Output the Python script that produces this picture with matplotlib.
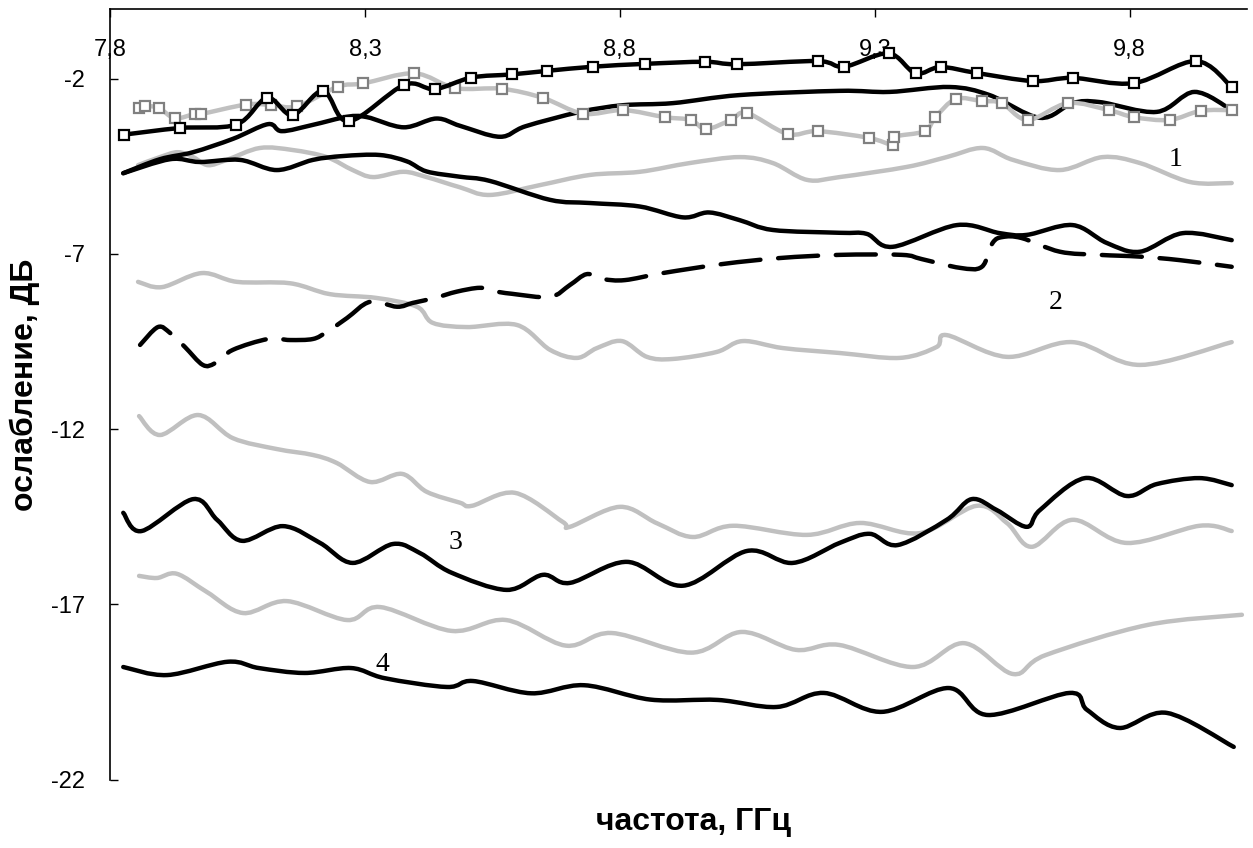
import matplotlib
matplotlib.use("Agg")
import matplotlib.pyplot as plt
import numpy as np
from matplotlib.path import Path
from matplotlib.patches import PathPatch

# ---- data (frequency, GHz ; attenuation, dB) ----
a_f = [7.827, 7.937, 8.048, 8.108, 8.158, 8.218, 8.268, 8.377, 8.437, 8.509, 8.588, 8.657, 8.748, 8.849,
       8.967, 9.030, 9.188, 9.240, 9.327, 9.380, 9.429, 9.500, 9.610, 9.688, 9.808, 9.930, 10.000]
a_v = [-3.60, -3.41, -3.31, -2.55, -3.04, -2.35, -3.22, -2.18, -2.30, -1.97, -1.88, -1.78, -1.66, -1.58,
       -1.52, -1.59, -1.50, -1.66, -1.28, -1.85, -1.67, -1.84, -2.07, -1.98, -2.13, -1.50, -2.24]

b_f = [7.857, 7.868, 7.896, 7.927, 7.966, 7.979, 8.067, 8.115, 8.167, 8.247, 8.296, 8.397, 8.477, 8.568,
       8.649, 8.728, 8.807, 8.888, 8.939, 8.969, 9.018, 9.049, 9.129, 9.188, 9.288, 9.335, 9.338, 9.398,
       9.419, 9.459, 9.510, 9.549, 9.600, 9.679, 9.759, 9.808, 9.878, 9.939, 10.000]
b_v = [-2.84, -2.78, -2.84, -3.13, -3.01, -3.01, -2.74, -2.75, -2.79, -2.23, -2.14, -1.85, -2.27, -2.29,
       -2.55, -3.00, -2.90, -3.10, -3.18, -3.44, -3.18, -2.98, -3.58, -3.50, -3.69, -3.89, -3.66, -3.50,
       -3.10, -2.58, -2.64, -2.70, -3.18, -2.70, -2.90, -3.10, -3.18, -2.92, -2.90]

c_f = [7.826, 7.898, 7.963, 8.041, 8.110, 8.137, 8.198, 8.265, 8.304, 8.376, 8.440, 8.487, 8.565, 8.615,
       8.722, 8.806, 8.904, 9.035, 9.231, 9.329, 9.447, 9.525, 9.624, 9.688, 9.741, 9.853, 9.927, 10.000]
c_v = [-4.70, -4.30, -4.10, -3.72, -3.30, -3.50, -3.32, -3.09, -3.10, -3.39, -3.14, -3.35, -3.66, -3.36,
       -2.95, -2.76, -2.70, -2.47, -2.35, -2.38, -2.24, -2.47, -3.12, -2.70, -2.67, -2.95, -2.38, -2.90]

d_f = [7.826, 7.918, 7.976, 8.055, 8.127, 8.198, 8.257, 8.329, 8.382, 8.421, 8.486, 8.545, 8.663, 8.741,
       8.839, 8.924, 8.975, 9.035, 9.100, 9.231, 9.284, 9.335, 9.461, 9.545, 9.598, 9.688, 9.755, 9.820,
       9.904, 10.000]
d_v = [-4.70, -4.30, -4.38, -4.32, -4.61, -4.32, -4.21, -4.18, -4.36, -4.65, -4.80, -4.92, -5.46, -5.55,
       -5.65, -5.96, -5.82, -6.04, -6.32, -6.40, -6.43, -6.80, -6.18, -6.41, -6.46, -6.18, -6.69, -6.94,
       -6.41, -6.61]

e_f = [7.859, 7.894, 7.918, 7.947, 7.982, 8.006, 8.041, 8.110, 8.153, 8.198, 8.225, 8.265, 8.310, 8.363,
       8.394, 8.437, 8.480, 8.525, 8.551, 8.588, 8.663, 8.702, 8.735, 8.767, 8.810, 8.884, 9.002, 9.114,
       9.231, 9.353, 9.392, 9.467, 9.510, 9.531, 9.551, 9.588, 9.663, 9.741, 9.820, 9.898, 10.000]
e_v = [-9.60, -9.09, -9.26, -9.66, -10.17, -10.12, -9.74, -9.43, -9.46, -9.43, -9.23, -8.83, -8.37, -8.51,
       -8.40, -8.26, -8.08, -7.97, -8.06, -8.14, -8.23, -7.89, -7.58, -7.72, -7.75, -7.55, -7.29, -7.12,
       -7.03, -7.03, -7.15, -7.40, -7.37, -6.69, -6.52, -6.55, -6.94, -7.03, -7.08, -7.18, -7.37]

f_f = [7.855, 7.898, 7.933, 7.963, 7.992, 8.029, 8.094, 8.159, 8.225, 8.276, 8.316, 8.375, 8.421, 8.486,
       8.545, 8.643, 8.741, 8.839, 8.937, 9.035, 9.100, 9.167, 9.231, 9.363, 9.441, 9.512, 9.571, 9.663,
       9.747, 9.820, 9.918, 10.000]
f_v = [-4.47, -4.24, -4.10, -4.24, -4.47, -4.32, -3.98, -4.04, -4.24, -4.61, -4.81, -4.66, -4.81, -5.10,
       -5.32, -5.04, -4.75, -4.66, -4.41, -4.24, -4.41, -4.89, -4.81, -4.52, -4.24, -3.98, -4.32, -4.61,
       -4.24, -4.41, -4.95, -4.98]

g_f = [7.855, 7.902, 7.980, 8.049, 8.153, 8.231, 8.323, 8.402, 8.433, 8.500, 8.598, 8.663, 8.716, 8.755,
       8.804, 8.853, 8.904, 8.990, 9.041, 9.120, 9.231, 9.349, 9.421, 9.441, 9.559, 9.688, 9.820, 10.000]
g_v = [-7.80, -7.95, -7.55, -7.80, -7.84, -8.15, -8.26, -8.51, -8.97, -9.09, -9.03, -9.74, -9.97, -9.69,
       -9.49, -9.94, -10.00, -9.80, -9.49, -9.69, -9.83, -9.97, -9.66, -9.32, -9.94, -9.52, -10.17, -9.52]

h_f = [7.857, 7.898, 7.973, 8.041, 8.127, 8.198, 8.245, 8.310, 8.373, 8.421, 8.486, 8.510, 8.594, 8.688,
       8.702, 8.800, 8.873, 8.943, 9.022, 9.167, 9.271, 9.388, 9.500, 9.559, 9.608, 9.688, 9.794, 9.937,
       10.000]
h_v = [-11.63, -12.17, -11.60, -12.26, -12.57, -12.74, -12.97, -13.51, -13.28, -13.79, -14.10, -14.19,
       -13.82, -14.65, -14.79, -14.22, -14.69, -15.08, -14.76, -15.02, -14.68, -14.97, -14.19, -14.68,
       -15.36, -14.59, -15.25, -14.76, -14.91]

i_f = [7.826, 7.862, 7.963, 8.010, 8.059, 8.139, 8.212, 8.276, 8.355, 8.408, 8.470, 8.578, 8.649, 8.702,
       8.814, 8.924, 9.049, 9.139, 9.231, 9.290, 9.345, 9.441, 9.490, 9.539, 9.598, 9.624, 9.712, 9.794,
       9.853, 9.937, 10.000]
i_v = [-14.39, -14.91, -14.00, -14.59, -15.19, -14.77, -15.25, -15.82, -15.28, -15.54, -16.10, -16.59,
       -16.16, -16.39, -15.79, -16.47, -15.48, -15.82, -15.25, -14.99, -15.31, -14.59, -14.00, -14.31,
       -14.79, -14.31, -13.40, -13.91, -13.57, -13.40, -13.60]

j_f = [7.857, 7.892, 7.931, 7.990, 8.061, 8.147, 8.265, 8.330, 8.470, 8.577, 8.694, 8.784, 8.940, 9.039,
       9.145, 9.230, 9.375, 9.475, 9.571, 9.635, 9.835, 10.020]
j_v = [-16.19, -16.25, -16.13, -16.65, -17.25, -16.91, -17.45, -17.08, -17.76, -17.45, -18.18, -17.82,
       -18.38, -17.79, -18.30, -18.16, -18.79, -18.11, -18.99, -18.45, -17.59, -17.30]

k_f = [7.826, 7.912, 8.031, 8.092, 8.182, 8.273, 8.339, 8.461, 8.512, 8.626, 8.730, 8.860, 8.992, 9.108,
       9.200, 9.314, 9.445, 9.522, 9.682, 9.716, 9.780, 9.873, 10.004]
k_v = [-18.79, -19.02, -18.64, -18.82, -18.96, -18.82, -19.11, -19.36, -19.19, -19.54, -19.31, -19.72,
       -19.73, -19.93, -19.53, -20.07, -19.39, -20.16, -19.53, -20.01, -20.53, -20.10, -21.07]

curve_labels = ["1", "2", "3", "4"]
label_f = [9.89, 9.655, 8.478, 8.335]
label_v = [-4.32, -8.40, -15.25, -18.73]

x_ticks = [7.8, 8.3, 8.8, 9.3, 9.8]
x_ticklabels = ["7,8", "8,3", "8,8", "9,3", "9,8"]
y_ticks = [-2, -7, -12, -17, -22]
y_ticklabels = ["-2", "-7", "-12", "-17", "-22"]

x_title = "частота, ГГц"
y_title = "ослабление, ДБ"

# ---- drawing ----
plt.rcParams["font.family"] = ["Liberation Sans", "DejaVu Sans"]
BLACK = "#000000"
GRAY = "#c0c0c0"
LW = 3.2


def smoothed(xs, ys):
    """Smoothed line through the data points (spreadsheet-style Bezier smoothing)."""
    p = np.column_stack([xs, ys]).astype(float)
    n = len(p)
    verts = [p[0]]
    codes = [Path.MOVETO]
    for i in range(n - 1):
        p0 = p[i - 1] if i > 0 else p[i]
        p1 = p[i]
        p2 = p[i + 1]
        p3 = p[i + 2] if i + 2 < n else p[i + 1]
        verts += [p1 + (p2 - p0) / 6.0, p2 - (p3 - p1) / 6.0, p2]
        codes += [Path.CURVE4] * 3
    return Path(verts, codes)


def draw(ax, xs, ys, color, ls="-", zorder=2):
    patch = PathPatch(smoothed(xs, ys), fill=False, edgecolor=color, lw=LW, linestyle=ls,
                      capstyle="round", joinstyle="round", zorder=zorder)
    ax.add_patch(patch)


fig = plt.figure(figsize=(12.53, 8.48), dpi=100)
ax = fig.add_axes([110 / 1253, 1 - 779.5 / 848, (1247 - 110) / 1253, (779.5 - 8.5) / 848])

draw(ax, f_f, f_v, GRAY)
draw(ax, g_f, g_v, GRAY)
draw(ax, h_f, h_v, GRAY)
draw(ax, j_f, j_v, GRAY)
draw(ax, c_f, c_v, BLACK)
draw(ax, d_f, d_v, BLACK)
draw(ax, e_f, e_v, BLACK, ls=(0, (9, 4)))
draw(ax, i_f, i_v, BLACK)
draw(ax, k_f, k_v, BLACK)
draw(ax, b_f, b_v, GRAY, zorder=3)
ax.plot(b_f, b_v, linestyle="none", marker="s", ms=7.5, mfc="white", mec="#808080", mew=1.6, zorder=4)
draw(ax, a_f, a_v, BLACK, zorder=5)
ax.plot(a_f, a_v, linestyle="none", marker="s", ms=7.5, mfc="white", mec=BLACK, mew=1.6, zorder=6)

for txt, fx, vy in zip(curve_labels, label_f, label_v):
    ax.text(fx, vy, txt, ha="center", va="center", fontsize=20, family="Liberation Serif")

ax.set_xlim(7.8, 10.03)
ax.set_ylim(-22, 0)

ax.set_xticks(x_ticks)
ax.set_xticklabels(x_ticklabels)
ax.set_yticks(y_ticks)
ax.set_yticklabels(y_ticklabels)

ax.tick_params(axis="x", top=True, bottom=False, labeltop=True, labelbottom=False,
               direction="in", length=6, width=1, pad=-38, labelsize=17)
ax.tick_params(axis="y", left=True, right=False, direction="in", length=6, width=1, pad=18,
               labelsize=17)

ax.spines["right"].set_visible(False)
ax.spines["bottom"].set_visible(False)
ax.spines["left"].set_linewidth(1.2)
ax.spines["top"].set_linewidth(1.2)

fig.text(693 / 1253, 1 - 822 / 848, x_title, ha="center", va="center",
         fontsize=23, fontweight="bold")
fig.text(25 / 1253, 1 - 385 / 848, y_title, ha="center", va="center", rotation=90,
         fontsize=23, fontweight="bold")

fig.savefig("out.png", dpi=100)
